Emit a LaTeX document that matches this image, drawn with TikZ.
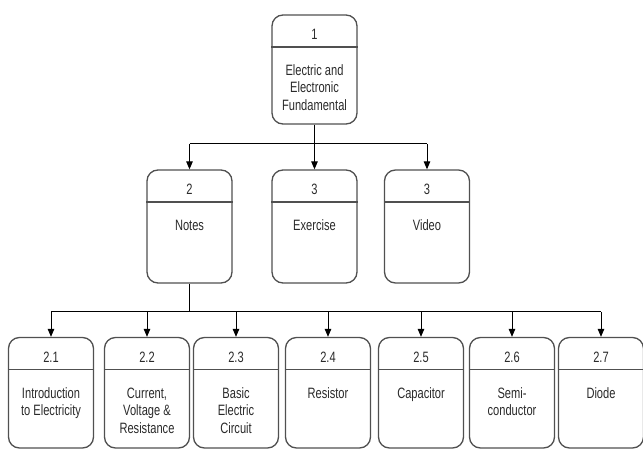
\documentclass[tikz,border=0pt]{standalone}
\usepackage{fontspec}
\setmainfont{Liberation Sans}[FakeStretch=0.74]
\usetikzlibrary{arrows.meta}
\definecolor{boxgray}{HTML}{505050}
\definecolor{txt}{HTML}{2A2A2A}
\tikzset{
  box/.style={draw=boxgray, line width=1.3pt, rounded corners=11pt, minimum width=85pt, inner sep=0pt},
  divider/.style={draw=boxgray, line width=1.3pt},
  num/.style={anchor=base, font=\fontsize{15}{17.5}\selectfont, text=txt, inner sep=0pt},
  body/.style={anchor=base, font=\fontsize{15}{17.5}\selectfont, text=txt, inner sep=0pt},
  conn/.style={draw=black, line width=1pt},
  arr/.style={conn, -{Triangle[length=8pt,width=6.5pt]}}
}
\newcommand{\dfdbox}[7]{%
  \node[box, minimum height={#4-#3}] (#1) at (#2, {(#3+#4)/2}) {};
  \draw[divider] (#1.west |- 0,#5) -- (#1.east |- 0,#5);
  \node[num] (#1-n) at (#2, #5-7) {#6};
  \node[body] (#1-t) at (#2, #5+28.5) {\begin{tabular}[t]{@{}c@{}}#7\end{tabular}};
}
\begin{document}
\begin{tikzpicture}[x=1pt, y=-1pt]
\useasboundingbox (0,0) rectangle (643,449);
% level 1
\dfdbox{top}{314.5}{15}{124}{47}{1}{Electric and\\Electronic\\Fundamental}
% level 2
\dfdbox{notes}{189.5}{170}{283}{202}{2}{Notes}
\dfdbox{exer}{314.5}{170}{283}{202}{3}{Exercise}
\dfdbox{video}{427}{170}{283}{202}{3}{Video}
% level 3
\dfdbox{b21}{51}{337.5}{448}{369.5}{2.1}{Introduction\\to Electricity}
\dfdbox{b22}{147}{337.5}{448}{369.5}{2.2}{Current,\\Voltage \&\\Resistance}
\dfdbox{b23}{236}{337.5}{448}{369.5}{2.3}{Basic\\Electric\\Circuit}
\dfdbox{b24}{328}{337.5}{448}{369.5}{2.4}{Resistor}
\dfdbox{b25}{421}{337.5}{448}{369.5}{2.5}{Capacitor}
\dfdbox{b26}{512}{337.5}{448}{369.5}{2.6}{Semi-\\conductor}
\dfdbox{b27}{601}{337.5}{448}{369.5}{2.7}{Diode}
% connectors level 1 -> 2
\coordinate (j1) at (314.5,144);
\draw[conn] (top.south) -- (j1);
\draw[conn] (notes.north |- j1) -- (video.north |- j1);
\foreach \n in {notes,exer,video} \draw[arr] (\n.north |- j1) -- (\n.north);
% connectors level 2 -> 3
\coordinate (j2) at (189.5,312);
\draw[conn] (notes.south) -- (j2);
\draw[conn] (b21.north |- j2) -- (b27.north |- j2);
\foreach \n in {b21,b22,b23,b24,b25,b26,b27} \draw[arr] (\n.north |- j2) -- (\n.north);
\end{tikzpicture}
\end{document}
